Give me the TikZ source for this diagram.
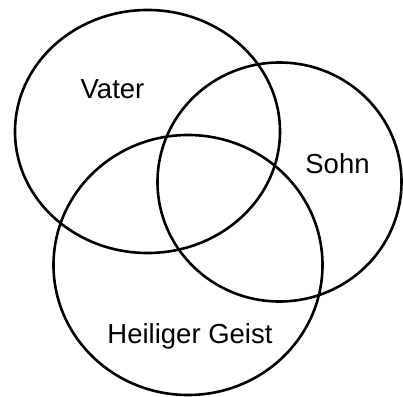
\documentclass[tikz,border=0pt]{standalone}
\usepackage{fontspec}
\setmainfont{Liberation Sans}
\begin{document}
\begin{tikzpicture}[x=1pt,y=-1pt,
  ring/.style={draw=black,line width=2.6pt},
  lbl/.style={font=\fontsize{27.5}{32}\selectfont,anchor=base,inner sep=0pt}]
\useasboundingbox (0,0) rectangle (403,396);
\draw[ring] (147.5,131.5) ellipse [x radius=132.5, y radius=121.5];
\draw[ring] (279.5,182) ellipse [x radius=122, y radius=119.5];
\draw[ring] (188,265) ellipse [x radius=134.5, y radius=130];
\node[lbl] (vater) at (112.5,98) {Vater};
\node[lbl] (sohn) at (337.5,173) {Sohn};
\node[lbl] (geist) at (190,343) {Heiliger Geist};
\end{tikzpicture}
\end{document}
